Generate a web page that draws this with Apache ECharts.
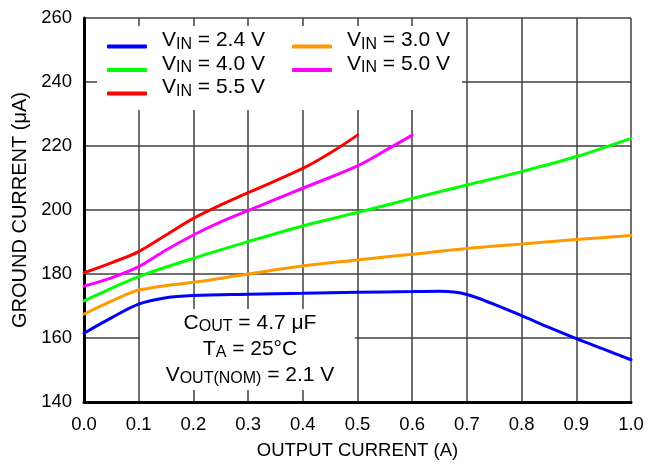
<!DOCTYPE html>
<html>
<head>
<meta charset="utf-8">
<script src="https://cdn.jsdelivr.net/npm/echarts@6/dist/echarts.min.js"></script>
<style>html,body{margin:0;padding:0;background:#fff}#c{width:655px;height:466px}</style>
</head>
<body>
<div id="c"></div>
<script>
// ---- data ----
const xTicks = [0, 0.1, 0.2, 0.3, 0.4, 0.5, 0.6, 0.7, 0.8, 0.9, 1.0];
const yTicks = [140, 160, 180, 200, 220, 240, 260];
const seriesNames = ['VIN = 2.4 V', 'VIN = 3.0 V', 'VIN = 4.0 V', 'VIN = 5.0 V', 'VIN = 5.5 V'];

const x24 = [0, 0.05, 0.1, 0.15, 0.2, 0.3, 0.4, 0.5, 0.6, 0.65, 0.68, 0.7, 0.72, 0.75, 0.8, 0.85, 0.9, 0.95, 1.0];
const y24 = [161.5, 166.3, 170.6, 172.6, 173.3, 173.7, 174.0, 174.3, 174.5, 174.6, 174.3, 173.6, 172.5, 170.5, 167.0, 163.3, 159.8, 156.5, 153.2];

const x30 = [0, 0.05, 0.08, 0.1, 0.15, 0.2, 0.3, 0.4, 0.5, 0.6, 0.7, 0.8, 0.9, 1.0];
const y30 = [167.5, 171.5, 173.8, 175.0, 176.4, 177.4, 180.0, 182.5, 184.4, 186.2, 188.0, 189.4, 190.8, 192.0];

const x40 = [0, 0.05, 0.1, 0.2, 0.3, 0.4, 0.5, 0.6, 0.7, 0.8, 0.9, 1.0];
const y40 = [171.6, 175.5, 179.2, 184.9, 190.1, 195.0, 199.2, 203.6, 207.8, 212.0, 216.7, 222.4];

const x50 = [0, 0.05, 0.1, 0.15, 0.2, 0.25, 0.3, 0.4, 0.5, 0.55, 0.6];
const y50 = [176.2, 178.8, 182.3, 187.5, 192.2, 196.3, 199.8, 206.8, 213.8, 218.5, 223.4];

const x55 = [0, 0.05, 0.1, 0.15, 0.2, 0.25, 0.3, 0.4, 0.45, 0.5];
const y55 = [180.4, 183.5, 187.0, 192.2, 197.4, 201.6, 205.4, 213.0, 217.8, 223.4];

const colors = ['#0000ff', '#ff9900', '#00ff00', '#ff00ff', '#ff0000'];
// ---------------

const zip = (xs, ys) => xs.map((x, i) => [x, ys[i]]);
const allData = [zip(x24, y24), zip(x30, y30), zip(x40, y40), zip(x50, y50), zip(x55, y55)];

const FONT = 'Liberation Sans, Arial, Helvetica, sans-serif';
const legRich = {
  v: { fontSize: 21, fontFamily: FONT, color: '#000', lineHeight: 24 },
  s: { fontSize: 16, fontFamily: FONT, color: '#000', lineHeight: 10, verticalAlign: 'bottom' }
};
const legFmt = name => '{v|V}{s|IN}{v|' + name.slice(3) + '}';

function legendFor(idx, left, top) {
  return {
    data: [seriesNames[idx]],
    left: left, top: top, padding: 0,
    orient: 'vertical',
    icon: 'roundRect', itemWidth: 40, itemHeight: 4,
    selectedMode: false,
    formatter: legFmt,
    textStyle: { rich: legRich, padding: [0, 0, 12, 10] }
  };
}

const annRich = {
  m: { fontSize: 21, fontFamily: FONT, color: '#000', lineHeight: 24 },
  s: { fontSize: 16, fontFamily: FONT, color: '#000', lineHeight: 10, verticalAlign: 'bottom' }
};

const chart = echarts.init(document.getElementById('c'), null, { renderer: 'canvas' });
chart.setOption({
  animation: false,
  backgroundColor: '#fff',
  color: colors,
  grid: { left: 84, top: 18, right: 24, bottom: 64, containLabel: false },
  xAxis: {
    type: 'value', min: 0, max: 1, interval: 0.1,
    name: 'OUTPUT CURRENT (A)', nameLocation: 'middle', nameGap: 39,
    nameTextStyle: { fontSize: 18.5, fontFamily: FONT, color: '#000' },
    axisLine: { show: true, onZero: false, lineStyle: { color: '#000', width: 3 } },
    axisTick: { show: false },
    axisLabel: { fontSize: 18.5, fontFamily: FONT, color: '#000', margin: 13,
      formatter: v => v.toFixed(1) },
    splitLine: { show: true, lineStyle: { color: '#404040', width: 1.5 } }
  },
  yAxis: {
    type: 'value', min: 140, max: 260, interval: 20,
    name: 'GROUND CURRENT (μA)', nameLocation: 'middle', nameGap: 50, nameRotate: 90,
    nameTextStyle: { fontSize: 20, fontFamily: FONT, color: '#000' },
    axisLine: { show: true, lineStyle: { color: '#000', width: 3 } },
    axisTick: { show: false },
    axisLabel: { fontSize: 18.5, fontFamily: FONT, color: '#000', margin: 12 },
    splitLine: { show: true, lineStyle: { color: '#404040', width: 1.5 } }
  },
  legend: [
    legendFor(0, 107, 30),
    legendFor(2, 107, 53.5),
    legendFor(4, 107, 77),
    legendFor(1, 292, 30),
    legendFor(3, 292, 53.5)
  ],
  graphic: [
    { type: 'rect', z: 1, silent: true, shape: { x: 97, y: 26, width: 365, height: 84 }, style: { fill: '#fff' } },
    { type: 'rect', z: 1, silent: true, shape: { x: 140, y: 309, width: 215, height: 81 }, style: { fill: '#fff' } },
    { type: 'text', z: 5, silent: true,
      style: { x: 250, y: 323, align: 'center', verticalAlign: 'middle',
        text: '{m|C}{s|OUT}{m| = 4.7 μF}', rich: annRich } },
    { type: 'text', z: 5, silent: true,
      style: { x: 250, y: 349, align: 'center', verticalAlign: 'middle',
        text: '{m|T}{s|A}{m| = 25°C}', rich: annRich } },
    { type: 'text', z: 5, silent: true,
      style: { x: 250, y: 375, align: 'center', verticalAlign: 'middle',
        text: '{m|V}{s|OUT(NOM)}{m| = 2.1 V}', rich: annRich } }
  ],
  series: seriesNames.map((n, i) => ({
    name: n, type: 'line', data: allData[i], smooth: 0.35,
    showSymbol: false, symbol: 'none', z: 2,
    lineStyle: { width: 3, color: colors[i], cap: 'round' },
    itemStyle: { color: colors[i] }
  }))
});
</script>
</body>
</html>
